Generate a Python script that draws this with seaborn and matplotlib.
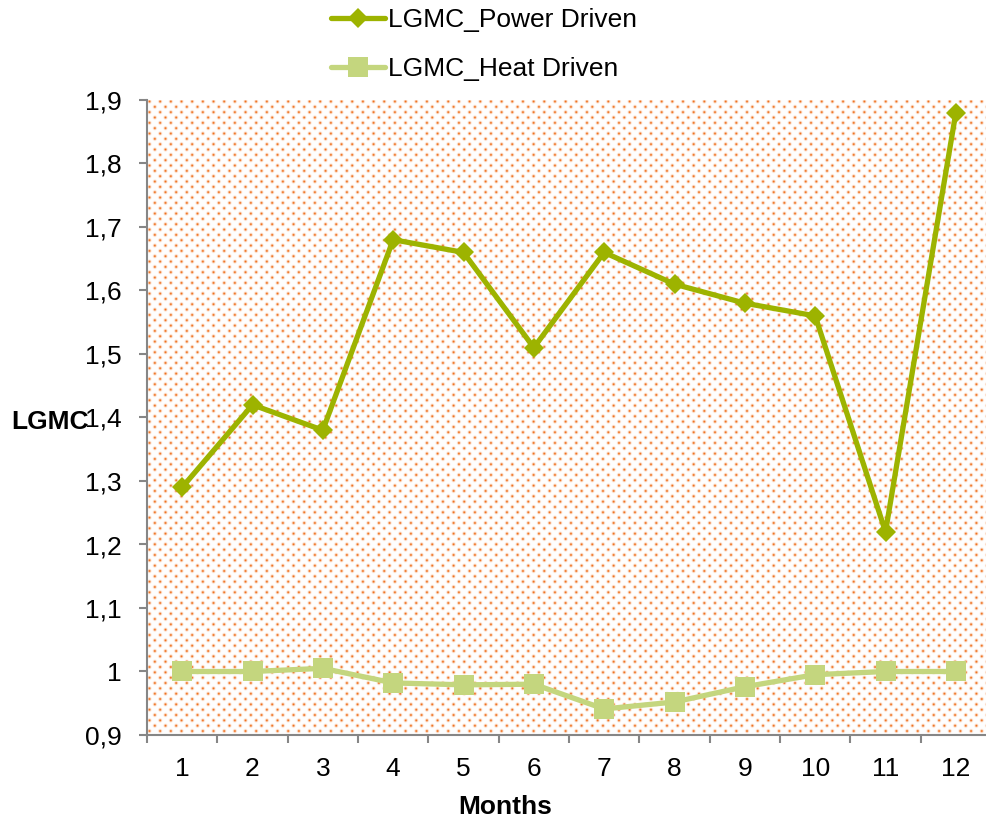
import numpy as np
import pandas as pd
import matplotlib
matplotlib.use("Agg")
import matplotlib.pyplot as plt
import seaborn as sns

# Monthly LGMC values for the two operating strategies
months = list(range(1, 13))
power_driven = [1.29, 1.42, 1.38, 1.68, 1.66, 1.51, 1.66, 1.61, 1.58, 1.56, 1.22, 1.88]
heat_driven = [1.000, 1.000, 1.005, 0.982, 0.979, 0.980, 0.941, 0.952, 0.976, 0.995, 1.000, 1.000]
series_names = ["LGMC_Power Driven", "LGMC_Heat Driven"]
y_ticks = [0.9, 1.0, 1.1, 1.2, 1.3, 1.4, 1.5, 1.6, 1.7, 1.8, 1.9]
y_tick_labels = ["0,9", "1", "1,1", "1,2", "1,3", "1,4", "1,5", "1,6", "1,7", "1,8", "1,9"]

sns.set_theme(style="white")
plt.rcParams["font.family"] = ["Liberation Sans", "DejaVu Sans"]
plt.rcParams["text.color"] = "black"
FS = 19

W_PX, H_PX = 986, 818
fig = plt.figure(figsize=(W_PX / 100, H_PX / 100), dpi=100)
left, right, top, bottom = 147, 991, 100, 735
ax = fig.add_axes([left / W_PX, 1 - bottom / H_PX, (right - left) / W_PX, (bottom - top) / H_PX])

# Dotted orange fill of the plot area
h, w = bottom - top, right - left
yy, xx = np.mgrid[0:h, 0:w] + 0.5
a = 10.67
def lattice(x0, y0, sigma=0.95):
    dx = (xx - x0) % a
    dx = np.minimum(dx, a - dx)
    dy = (yy - y0) % a
    dy = np.minimum(dy, a - dy)
    return np.exp(-(dx ** 2 + dy ** 2) / (2 * sigma ** 2))
inten = np.maximum(lattice(2.5, 1.5), lattice(2.5 + a / 2, 1.5 + a / 2))[..., None]
orange = np.array([238, 112, 30]) / 255.0
pattern = (1 - inten) * 1.0 + inten * orange
ax.imshow(pattern, extent=(0, 1, 0, 1), transform=ax.transAxes, aspect="auto",
          interpolation="nearest", zorder=0)

df = pd.DataFrame({"Month": months, series_names[0]: power_driven, series_names[1]: heat_driven})

c_power = "#9DB300"
c_heat = "#C4D67E"
sns.lineplot(data=df, x="Month", y=series_names[0], ax=ax, color=c_power, linewidth=3.8,
             marker="D", markersize=10.5, markeredgecolor=c_power, markeredgewidth=0,
             label=series_names[0], zorder=4)
sns.lineplot(data=df, x="Month", y=series_names[1], ax=ax, color=c_heat, linewidth=3.8,
             marker="s", markersize=14, markeredgecolor=c_heat, markeredgewidth=0,
             label=series_names[1], zorder=3)

ax.set_xlim(0.5, 12.5)
ax.set_ylim(0.9, 1.9)

axis_gray = "#868686"
for side in ["top", "right"]:
    ax.spines[side].set_visible(False)
for side in ["left", "bottom"]:
    ax.spines[side].set_color(axis_gray)
    ax.spines[side].set_linewidth(1.5)
    ax.spines[side].set_zorder(5)

ax.set_yticks(y_ticks)
ax.set_yticklabels(y_tick_labels)
ax.tick_params(axis="y", which="major", left=True, length=6, width=1.5, color=axis_gray,
               direction="out", pad=12, labelsize=FS, labelcolor="black")

ax.set_xticks(months)
ax.set_xticklabels([str(m) for m in months])
ax.set_xticks([m + 0.5 for m in [0] + months], minor=True)
ax.tick_params(axis="x", which="major", bottom=True, length=0, pad=16, labelsize=FS,
               labelcolor="black")
ax.tick_params(axis="x", which="minor", bottom=True, length=6, width=1.5, color=axis_gray,
               direction="out")

ax.set_xlabel("Months", fontsize=FS, fontweight="bold", color="black")
ax.xaxis.set_label_coords((505 - left) / (right - left), -(807 - bottom) / (bottom - top))
ax.xaxis.label.set_va("center")
ax.set_ylabel("LGMC", fontsize=FS, fontweight="bold", color="black", rotation=0)
ax.yaxis.set_label_coords((50 - left) / (right - left), (bottom - 422) / (bottom - top))
ax.yaxis.label.set_va("center")
ax.yaxis.label.set_ha("center")
ax.grid(False)

ax.legend(loc="upper left", bbox_to_anchor=(326 / W_PX, 1 - 3 / H_PX),
          bbox_transform=fig.transFigure, frameon=False, fontsize=FS,
          handlelength=2.05, handletextpad=0.1, labelspacing=0.95, borderpad=0.2,
          borderaxespad=0)

fig.savefig("out.png", dpi=100)
